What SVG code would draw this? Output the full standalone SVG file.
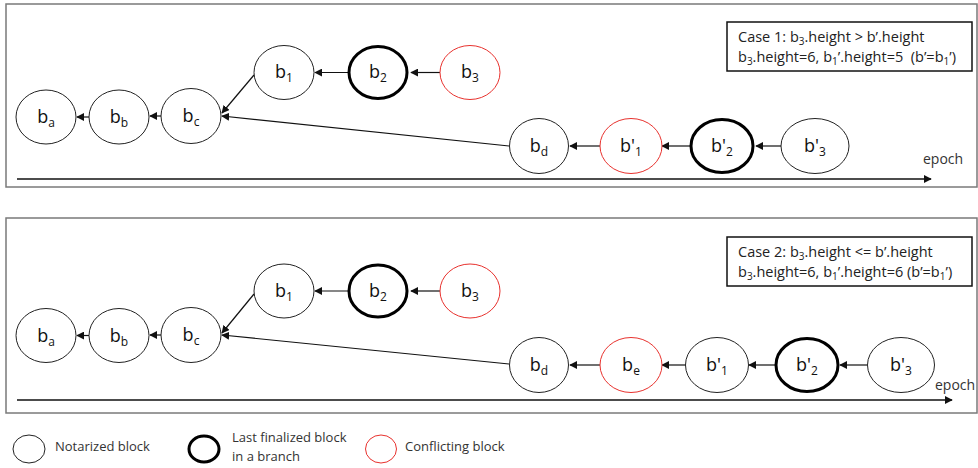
<svg xmlns="http://www.w3.org/2000/svg" width="978" height="468" viewBox="0 0 978 468">
<style>
.frame{fill:none;stroke:#7a7a7a;stroke-width:1.5}
.n{fill:#fff;stroke:#222;stroke-width:1}
.f{fill:#fff;stroke:#000;stroke-width:3}
.c{fill:#fff;stroke:#e8322e;stroke-width:1}
.lbl{font-family:"Open Sans","Liberation Sans",sans-serif;font-size:18px;fill:#111;text-anchor:middle}
.sub{font-size:12px}
.box{fill:#fff;stroke:#111;stroke-width:1.5}
.bt{font-family:"Open Sans","Liberation Sans",sans-serif;font-size:14.5px;fill:#222}
.bs{font-size:10px}
.e{stroke:#111;stroke-width:1.2;fill:none;marker-end:url(#ah)}
.ax{stroke:#111;stroke-width:1.5;fill:none;marker-end:url(#ah)}
.lg{font-family:"Open Sans","Liberation Sans",sans-serif;font-size:13px;fill:#333}
.ep{font-family:"Open Sans","Liberation Sans",sans-serif;font-size:14px;fill:#333}
</style>
<defs>
<marker id="ah" viewBox="0 0 10 10" refX="9" refY="5" markerWidth="8" markerHeight="8" markerUnits="userSpaceOnUse" orient="auto">
<path d="M0,0 L10,5 L0,10 Z" fill="#111"/>
</marker>
</defs>
<rect fill="#fff" x="0" y="0" width="978" height="468"/>

<!-- Panel 1 -->
<rect class="frame" x="6" y="4" width="971" height="183"/>
<g id="case1">
<rect class="box" x="727" y="22" width="245" height="49"/>
<text class="bt" x="738" y="42">Case 1: b<tspan class="bs" dy="3">3</tspan><tspan dy="-3">.height &gt; b’.height</tspan></text>
<text class="bt" x="738" y="62">b<tspan class="bs" dy="3">3</tspan><tspan dy="-3">.height=6, b</tspan><tspan class="bs" dy="3">1</tspan><tspan dy="-3">’.height=5 &#160;(b’=b</tspan><tspan class="bs" dy="3">1</tspan><tspan dy="-3">’)</tspan></text>
</g>
<text class="ep" x="923" y="164">epoch</text>

<g id="edges1">
<line class="ax" x1="17" y1="179" x2="931" y2="179"/>
<line class="e" x1="89" y1="117" x2="77" y2="117"/>
<line class="e" x1="161" y1="116" x2="150" y2="116"/>
<line class="e" x1="254" y1="75" x2="222" y2="113"/>
<line class="e" x1="348" y1="72.5" x2="315" y2="72.5"/>
<line class="e" x1="440" y1="72.5" x2="411" y2="72.5"/>
<line class="e" x1="509" y1="146" x2="222" y2="116"/>
<line class="e" x1="600" y1="146" x2="570" y2="146"/>
<line class="e" x1="690" y1="146" x2="662" y2="146"/>
<line class="e" x1="781" y1="146" x2="756" y2="146"/>
</g>

<g id="p1_ba"><ellipse class="n" cx="46" cy="117" rx="30" ry="27"/><text class="lbl" x="46" y="123">b<tspan class="sub" dy="4">a</tspan></text></g>
<g id="p1_bb"><ellipse class="n" cx="119" cy="117" rx="30" ry="27"/><text class="lbl" x="119" y="123">b<tspan class="sub" dy="4">b</tspan></text></g>
<g id="p1_bc"><ellipse class="n" cx="191" cy="116" rx="30" ry="27.5"/><text class="lbl" x="191" y="122">b<tspan class="sub" dy="4">c</tspan></text></g>
<g id="p1_b1"><ellipse class="n" cx="284" cy="72.5" rx="30" ry="27"/><text class="lbl" x="284" y="78">b<tspan class="sub" dy="4">1</tspan></text></g>
<g id="p1_b2"><ellipse class="f" cx="378" cy="72.5" rx="29" ry="26"/><text class="lbl" x="378" y="78">b<tspan class="sub" dy="4">2</tspan></text></g>
<g id="p1_b3"><ellipse class="c" cx="470" cy="72.5" rx="30" ry="27"/><text class="lbl" x="470" y="78">b<tspan class="sub" dy="4">3</tspan></text></g>
<g id="p1_bd"><ellipse class="n" cx="539" cy="146" rx="29.5" ry="27.5"/><text class="lbl" x="539" y="152">b<tspan class="sub" dy="4">d</tspan></text></g>
<g id="p1_bp1"><ellipse class="c" cx="631" cy="146" rx="31" ry="27.5"/><text class="lbl" x="631" y="152">b'<tspan class="sub" dy="4">1</tspan></text></g>
<g id="p1_bp2"><ellipse class="f" cx="722" cy="146" rx="31" ry="26.5"/><text class="lbl" x="722" y="152">b'<tspan class="sub" dy="4">2</tspan></text></g>
<g id="p1_bp3"><ellipse class="n" cx="815" cy="146" rx="34" ry="27.5"/><text class="lbl" x="815" y="152">b'<tspan class="sub" dy="4">3</tspan></text></g>

<!-- Panel 2 -->
<rect class="frame" x="6" y="218" width="971" height="195"/>
<g id="case2">
<rect class="box" x="727" y="237" width="245" height="49"/>
<text class="bt" x="738" y="257">Case 2: b<tspan class="bs" dy="3">3</tspan><tspan dy="-3">.height &lt;= b’.height</tspan></text>
<text class="bt" x="738" y="277">b<tspan class="bs" dy="3">3</tspan><tspan dy="-3">.height=6, b</tspan><tspan class="bs" dy="3">1</tspan><tspan dy="-3">’.height=6 (b’=b</tspan><tspan class="bs" dy="3">1</tspan><tspan dy="-3">’)</tspan></text>
</g>
<text class="ep" x="935" y="390">epoch</text>

<g id="edges2">
<line class="ax" x1="17" y1="400" x2="952" y2="400"/>
<line class="e" x1="89" y1="335.5" x2="77" y2="335.5"/>
<line class="e" x1="161" y1="335" x2="150" y2="335"/>
<line class="e" x1="254" y1="294" x2="222" y2="333"/>
<line class="e" x1="348" y1="291" x2="315" y2="291"/>
<line class="e" x1="440" y1="291" x2="411" y2="291"/>
<line class="e" x1="509" y1="364" x2="222" y2="335"/>
<line class="e" x1="600" y1="365" x2="570" y2="365"/>
<line class="e" x1="686" y1="365" x2="662" y2="365"/>
<line class="e" x1="775" y1="365" x2="749" y2="365"/>
<line class="e" x1="867" y1="365" x2="840" y2="365"/>
</g>

<g id="p2_ba"><ellipse class="n" cx="46" cy="335.5" rx="30" ry="27"/><text class="lbl" x="46" y="341.5">b<tspan class="sub" dy="4">a</tspan></text></g>
<g id="p2_bb"><ellipse class="n" cx="119" cy="335.5" rx="30" ry="27"/><text class="lbl" x="119" y="341.5">b<tspan class="sub" dy="4">b</tspan></text></g>
<g id="p2_bc"><ellipse class="n" cx="191" cy="335" rx="30" ry="27.5"/><text class="lbl" x="191" y="341">b<tspan class="sub" dy="4">c</tspan></text></g>
<g id="p2_b1"><ellipse class="n" cx="284" cy="291" rx="30" ry="27"/><text class="lbl" x="284" y="297">b<tspan class="sub" dy="4">1</tspan></text></g>
<g id="p2_b2"><ellipse class="f" cx="378" cy="291" rx="29" ry="26"/><text class="lbl" x="378" y="297">b<tspan class="sub" dy="4">2</tspan></text></g>
<g id="p2_b3"><ellipse class="c" cx="470" cy="291" rx="30" ry="27"/><text class="lbl" x="470" y="297">b<tspan class="sub" dy="4">3</tspan></text></g>
<g id="p2_bd"><ellipse class="n" cx="539" cy="365" rx="29.5" ry="27.5"/><text class="lbl" x="539" y="371">b<tspan class="sub" dy="4">d</tspan></text></g>
<g id="p2_be"><ellipse class="c" cx="631" cy="365" rx="31" ry="27.5"/><text class="lbl" x="631" y="371">b<tspan class="sub" dy="4">e</tspan></text></g>
<g id="p2_bp1"><ellipse class="n" cx="717" cy="365" rx="31.5" ry="27.5"/><text class="lbl" x="717" y="371">b'<tspan class="sub" dy="4">1</tspan></text></g>
<g id="p2_bp2"><ellipse class="f" cx="807" cy="365" rx="31" ry="26.5"/><text class="lbl" x="807" y="371">b'<tspan class="sub" dy="4">2</tspan></text></g>
<g id="p2_bp3"><ellipse class="n" cx="901" cy="365" rx="33.5" ry="27.5"/><text class="lbl" x="901" y="371">b'<tspan class="sub" dy="4">3</tspan></text></g>

<!-- Legend -->
<g id="legend_notarized"><ellipse class="n" cx="29" cy="449" rx="16" ry="14"/><text class="lg" x="55" y="451">Notarized block</text></g>
<g id="legend_finalized"><ellipse class="f" cx="204" cy="449" rx="15" ry="13"/><text class="lg" x="232" y="442">Last finalized block</text><text class="lg" x="232" y="461">in a branch</text></g>
<g id="legend_conflicting"><ellipse class="c" cx="381" cy="449" rx="15.5" ry="14"/><text class="lg" x="405" y="451">Conflicting block</text></g>
</svg>
